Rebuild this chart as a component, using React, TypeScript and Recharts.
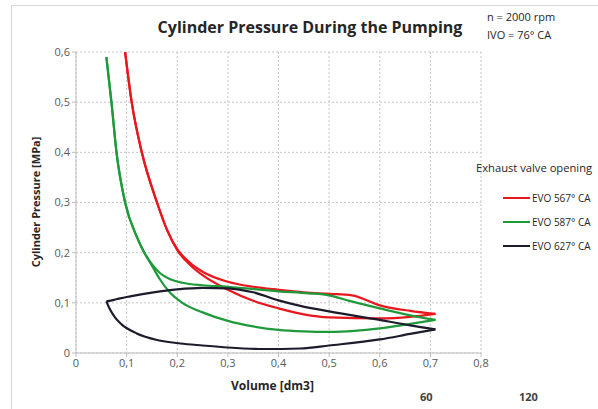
import { LineChart, Line, XAxis, YAxis, CartesianGrid } from 'recharts';

// Volume [dm3] / pressure [MPa] points; each loop split into an upper and a lower branch
const red567Upper = [
  { v: 0.097, p: 0.6 }, { v: 0.11, p: 0.5 }, { v: 0.13, p: 0.4 }, { v: 0.16, p: 0.3 },
  { v: 0.18, p: 0.245 }, { v: 0.2, p: 0.207 }, { v: 0.225, p: 0.18 }, { v: 0.25, p: 0.162 },
  { v: 0.3, p: 0.142 }, { v: 0.35, p: 0.132 }, { v: 0.4, p: 0.126 }, { v: 0.45, p: 0.121 },
  { v: 0.5, p: 0.118 }, { v: 0.545, p: 0.115 }, { v: 0.6, p: 0.095 }, { v: 0.66, p: 0.084 },
  { v: 0.71, p: 0.078 },
];
const red567Lower = [
  { v: 0.097, p: 0.6 }, { v: 0.11, p: 0.5 }, { v: 0.13, p: 0.4 }, { v: 0.16, p: 0.3 },
  { v: 0.18, p: 0.245 }, { v: 0.2, p: 0.205 }, { v: 0.225, p: 0.176 }, { v: 0.25, p: 0.155 },
  { v: 0.3, p: 0.126 }, { v: 0.35, p: 0.104 }, { v: 0.4, p: 0.089 }, { v: 0.45, p: 0.077 },
  { v: 0.5, p: 0.071 }, { v: 0.6, p: 0.069 }, { v: 0.66, p: 0.072 }, { v: 0.71, p: 0.078 },
];
const green587Upper = [
  { v: 0.06, p: 0.59 }, { v: 0.07, p: 0.5 }, { v: 0.08, p: 0.4 }, { v: 0.097, p: 0.3 },
  { v: 0.12, p: 0.232 }, { v: 0.135, p: 0.2 }, { v: 0.15, p: 0.177 }, { v: 0.165, p: 0.16 },
  { v: 0.186, p: 0.147 }, { v: 0.21, p: 0.14 }, { v: 0.25, p: 0.135 }, { v: 0.3, p: 0.132 },
  { v: 0.4, p: 0.123 }, { v: 0.46, p: 0.119 }, { v: 0.5, p: 0.115 }, { v: 0.54, p: 0.104 },
  { v: 0.6, p: 0.089 }, { v: 0.66, p: 0.075 }, { v: 0.71, p: 0.066 },
];
const green587Lower = [
  { v: 0.06, p: 0.59 }, { v: 0.07, p: 0.5 }, { v: 0.08, p: 0.4 }, { v: 0.097, p: 0.3 },
  { v: 0.12, p: 0.232 }, { v: 0.135, p: 0.2 }, { v: 0.15, p: 0.174 }, { v: 0.165, p: 0.148 },
  { v: 0.186, p: 0.12 }, { v: 0.21, p: 0.1 }, { v: 0.25, p: 0.081 }, { v: 0.3, p: 0.064 },
  { v: 0.35, p: 0.053 }, { v: 0.4, p: 0.046 }, { v: 0.45, p: 0.043 }, { v: 0.5, p: 0.042 },
  { v: 0.55, p: 0.044 }, { v: 0.6, p: 0.049 }, { v: 0.66, p: 0.058 }, { v: 0.71, p: 0.066 },
];
const black627Upper = [
  { v: 0.06, p: 0.103 }, { v: 0.075, p: 0.106 }, { v: 0.087, p: 0.109 }, { v: 0.107, p: 0.113 },
  { v: 0.153, p: 0.121 }, { v: 0.2, p: 0.127 }, { v: 0.25, p: 0.13 }, { v: 0.3, p: 0.129 },
  { v: 0.35, p: 0.121 }, { v: 0.4, p: 0.105 }, { v: 0.443, p: 0.094 }, { v: 0.5, p: 0.083 },
  { v: 0.6, p: 0.066 }, { v: 0.66, p: 0.055 }, { v: 0.71, p: 0.047 },
];
const black627Lower = [
  { v: 0.06, p: 0.103 }, { v: 0.067, p: 0.087 }, { v: 0.077, p: 0.071 }, { v: 0.09, p: 0.057 },
  { v: 0.12, p: 0.039 }, { v: 0.16, p: 0.026 }, { v: 0.206, p: 0.019 }, { v: 0.25, p: 0.015 },
  { v: 0.3, p: 0.011 }, { v: 0.37, p: 0.008 }, { v: 0.443, p: 0.009 }, { v: 0.5, p: 0.015 },
  { v: 0.6, p: 0.027 }, { v: 0.66, p: 0.038 }, { v: 0.71, p: 0.047 },
];

const xTicks = [0, 0.1, 0.2, 0.3, 0.4, 0.5, 0.6, 0.7, 0.8];
const yTicks = [0, 0.1, 0.2, 0.3, 0.4, 0.5, 0.6];

const legendItems = [
  { name: 'EVO 567° CA', color: '#e8161d' },
  { name: 'EVO 587° CA', color: '#1f9a3a' },
  { name: 'EVO 627° CA', color: '#1c1c2c' },
];

const series = [
  { key: 'r1', data: red567Upper, color: legendItems[0].color },
  { key: 'r2', data: red567Lower, color: legendItems[0].color },
  { key: 'g1', data: green587Upper, color: legendItems[1].color },
  { key: 'g2', data: green587Lower, color: legendItems[1].color },
  { key: 'b1', data: black627Upper, color: legendItems[2].color },
  { key: 'b2', data: black627Lower, color: legendItems[2].color },
];

const fmt = (v: number) => (v === 0 ? '0' : v.toFixed(1).replace('.', ','));
const font = '"Open Sans", "Liberation Sans", sans-serif';
const tick = { fill: '#595959', fontSize: 11, fontFamily: font };

export default function App() {
  return (
    <div style={{ position: 'absolute', left: 0, top: 0, width: 598, height: 409, overflow: 'hidden', background: '#fff', fontFamily: font }}>
      <div style={{ position: 'absolute', left: 11, top: 5, width: 700, height: 500, border: '1px solid #d6d6d6' }} />
      <LineChart width={598} height={409} margin={{ top: 52, right: 117, left: 36, bottom: 26 }}>
        <CartesianGrid strokeDasharray="2 2" stroke="#c6c6c6" />
        <XAxis type="number" dataKey="v" domain={[0, 0.8]} ticks={xTicks} tickFormatter={fmt}
          tick={tick} stroke="#bfbfbf" tickSize={4} height={30} allowDuplicatedCategory={false} />
        <YAxis type="number" dataKey="p" domain={[0, 0.6]} ticks={yTicks} tickFormatter={fmt}
          tick={tick} stroke="#bfbfbf" tickSize={4} width={40} allowDataOverflow />
        {series.map(s => (
          <Line key={s.key} data={s.data} dataKey="p" type="monotone" stroke={s.color} strokeWidth={2.2}
            dot={false} activeDot={false} isAnimationActive={false} />
        ))}
      </LineChart>
      <div style={{ position: 'absolute', left: 0, width: 620, top: 16, textAlign: 'center', fontSize: 16, fontWeight: 700, color: '#262626' }}>
        Cylinder Pressure During the Pumping
      </div>
      <div style={{ position: 'absolute', left: 487, top: 8, fontSize: 11, lineHeight: '18px', color: '#262626' }}>
        n = 2000 rpm<br />IVO = 76° CA
      </div>
      <div style={{ position: 'absolute', left: 35, top: 202, transform: 'translate(-50%, -50%) rotate(-90deg)', whiteSpace: 'nowrap', fontSize: 11, fontWeight: 700, color: '#262626' }}>
        Cylinder Pressure [MPa]
      </div>
      <div style={{ position: 'absolute', left: 231, top: 377, fontSize: 12, fontWeight: 700, color: '#262626' }}>
        Volume [dm3]
      </div>
      <div style={{ position: 'absolute', left: 420, top: 389, fontSize: 11, fontWeight: 700, color: '#404040' }}>60</div>
      <div style={{ position: 'absolute', left: 519, top: 389, fontSize: 11, fontWeight: 700, color: '#404040' }}>120</div>
      <div style={{ position: 'absolute', left: 476, top: 160, fontSize: 11.2, color: '#262626', whiteSpace: 'nowrap' }}>
        Exhaust valve opening
      </div>
      {legendItems.map((it, i) => (
        <div key={it.name} style={{ position: 'absolute', left: 503, top: 191 + i * 24, display: 'flex', alignItems: 'center', fontSize: 10, color: '#262626', whiteSpace: 'nowrap' }}>
          <span style={{ display: 'inline-block', width: 27, height: 2, background: it.color, marginRight: 2 }} />
          {it.name}
        </div>
      ))}
    </div>
  );
}
